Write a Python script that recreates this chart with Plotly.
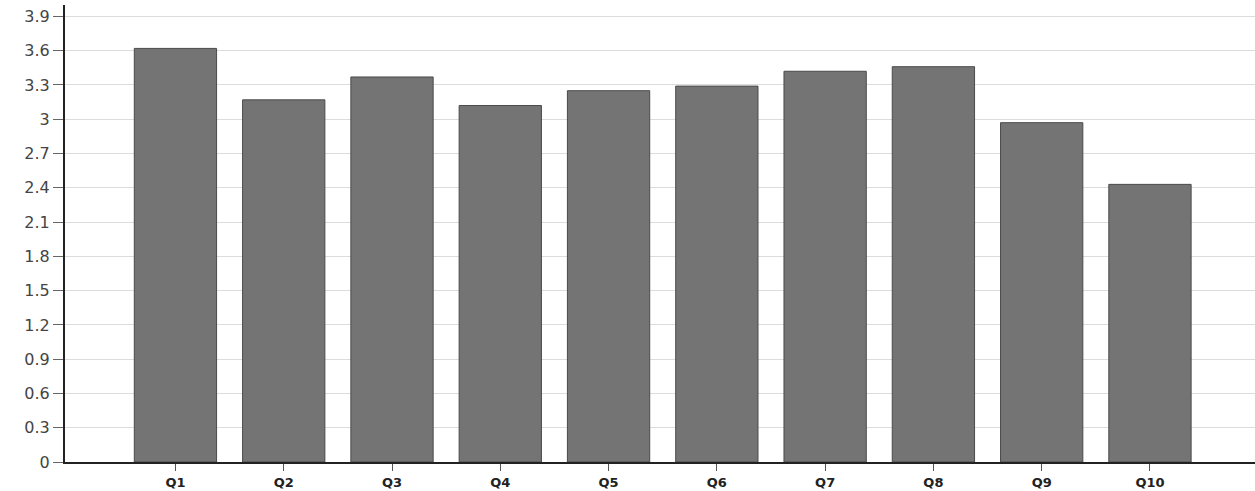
import plotly.graph_objects as go

categories = ["Q1", "Q2", "Q3", "Q4", "Q5", "Q6", "Q7", "Q8", "Q9", "Q10"]
values = [3.62, 3.17, 3.37, 3.12, 3.25, 3.29, 3.42, 3.46, 2.97, 2.43]
y_ticks = [0, 0.3, 0.6, 0.9, 1.2, 1.5, 1.8, 2.1, 2.4, 2.7, 3.0, 3.3, 3.6, 3.9]
y_tick_labels = ["0", "0.3", "0.6", "0.9", "1.2", "1.5", "1.8", "2.1", "2.4", "2.7", "3", "3.3", "3.6", "3.9"]

fig = go.Figure(
    go.Bar(
        x=categories,
        y=values,
        width=0.76,
        marker=dict(color="#747474", line=dict(color="#4a4a4a", width=1)),
    )
)

fig.update_layout(
    width=1255,
    height=491,
    margin=dict(l=65, r=0, t=5, b=29),
    paper_bgcolor="white",
    plot_bgcolor="white",
    showlegend=False,
    font=dict(family="DejaVu Sans", color="#333333"),
)

fig.update_xaxes(
    type="category",
    range=[-1.02, 9.97],
    showgrid=False,
    showline=True,
    linecolor="#222222",
    linewidth=2,
    ticks="outside",
    ticklen=7,
    tickcolor="#555555",
    tickfont=dict(family="DejaVu Sans", size=13, color="#222222", weight="bold"),
)

fig.update_yaxes(
    range=[0, 4.0],
    tickvals=y_ticks,
    ticktext=y_tick_labels,
    showgrid=True,
    gridcolor="#dcdcdc",
    gridwidth=1,
    showline=True,
    linecolor="#222222",
    linewidth=2,
    ticks="outside",
    ticklen=10,
    tickcolor="#666666",
    tickfont=dict(family="DejaVu Sans", size=16, color="#444444"),
    zeroline=False,
)

fig.write_html(
    "out.html",
    config={"displayModeBar": False},
    post_script="document.body.style.margin='0';document.body.style.overflow='hidden';",
)
